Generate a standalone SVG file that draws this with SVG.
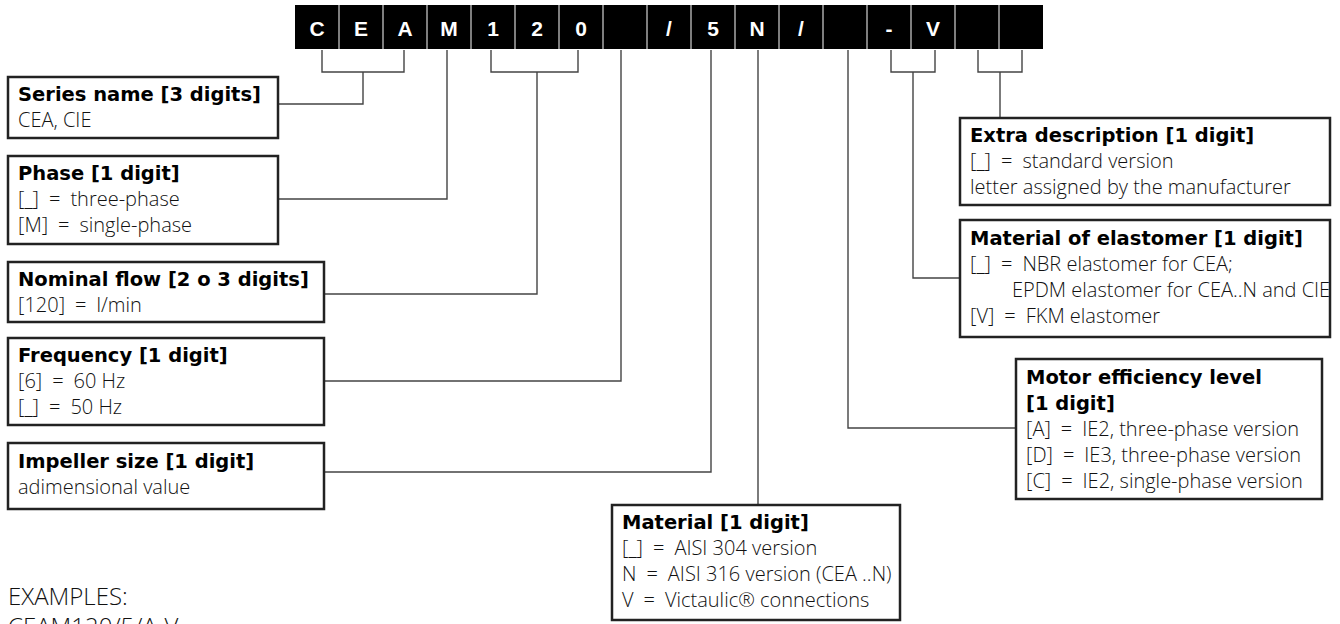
<svg xmlns="http://www.w3.org/2000/svg" width="1340" height="624" viewBox="0 0 1340 624">
<style>
.bar { fill: #000; }
.sep { stroke: #a8a8a8; stroke-width: 1.5; }
.code { font-family: "Liberation Sans", Arial, sans-serif; font-weight: bold; font-size: 21px; fill: #fff; text-anchor: middle; }
.box { fill: #fff; stroke: #222; stroke-width: 2.5; }
.t { font-family: "DejaVu Sans", sans-serif; font-weight: bold; font-size: 19.5px; fill: #000; }
.b { font-family: "Open Sans", "Liberation Sans", sans-serif; font-weight: 300; font-size: 20px; fill: #111; }
.conn { fill: none; stroke: #444; stroke-width: 1.4; }
.ex { font-family: "Open Sans", "Liberation Sans", sans-serif; font-weight: 300; font-size: 24px; fill: #111; }
</style>
<rect width="1340" height="624" fill="#fff"/>
<g id="code-bar">
<rect class="bar" x="295" y="5" width="748" height="44"/>
<path class="sep" d="M339,5V49M383,5V49M427,5V49M471,5V49M515,5V49M559,5V49M603,5V49M647,5V49M691,5V49M735,5V49M779,5V49M823,5V49M867,5V49M911,5V49M955,5V49M999,5V49"/>
<text class="code" x="317" y="36">C</text>
<text class="code" x="361" y="36">E</text>
<text class="code" x="405" y="36">A</text>
<text class="code" x="449" y="36">M</text>
<text class="code" x="493" y="36">1</text>
<text class="code" x="537" y="36">2</text>
<text class="code" x="581" y="36">0</text>
<text class="code" x="669" y="36">/</text>
<text class="code" x="713" y="36">5</text>
<text class="code" x="757" y="36">N</text>
<text class="code" x="801" y="36">/</text>
<text class="code" x="889" y="36">-</text>
<text class="code" x="933" y="36">V</text>
</g>
<g id="connectors">
<path class="conn" d="M322,50V72H404V50M363,72V104H278"/>
<path class="conn" d="M447,50V199H278"/>
<path class="conn" d="M491,50V72H578V50M537,72V294H324"/>
<path class="conn" d="M621,50V381H324"/>
<path class="conn" d="M711,50V472H324"/>
<path class="conn" d="M758,50V505"/>
<path class="conn" d="M848,50V428H1016"/>
<path class="conn" d="M891,50V72H935V50M913,72V278H960"/>
<path class="conn" d="M978,50V72H1022V50M1000,72V118"/>
</g>
<g id="series">
<rect class="box" x="8" y="77" width="270" height="61"/>
<text class="t" x="18" y="101">Series name [3 digits]</text>
<text class="b" x="18" y="127">CEA, CIE</text>
</g>
<g id="phase">
<rect class="box" x="8" y="156" width="270" height="88"/>
<text class="t" x="18" y="180">Phase [1 digit]</text>
<text class="b" x="18" y="206">[_]&#8194;=&#8194;three-phase</text>
<text class="b" x="18" y="232">[M]&#8194;=&#8194;single-phase</text>
</g>
<g id="nominal-flow">
<rect class="box" x="8" y="262" width="316" height="60"/>
<text class="t" x="18" y="286">Nominal flow [2 o 3 digits]</text>
<text class="b" x="18" y="312">[120]&#8194;=&#8194;l/min</text>
</g>
<g id="frequency">
<rect class="box" x="8" y="338" width="316" height="87"/>
<text class="t" x="18" y="362">Frequency [1 digit]</text>
<text class="b" x="18" y="388">[6]&#8194;=&#8194;60 Hz</text>
<text class="b" x="18" y="414">[_]&#8194;=&#8194;50 Hz</text>
</g>
<g id="impeller">
<rect class="box" x="8" y="443" width="316" height="66"/>
<text class="t" x="18" y="468">Impeller size [1 digit]</text>
<text class="b" x="18" y="494">adimensional value</text>
</g>
<g id="extra">
<rect class="box" x="960" y="118" width="370" height="87"/>
<text class="t" x="970" y="142">Extra description [1 digit]</text>
<text class="b" x="970" y="168">[_]&#8194;=&#8194;standard version</text>
<text class="b" x="970" y="194">letter assigned by the manufacturer</text>
</g>
<g id="elastomer">
<rect class="box" x="960" y="220" width="370" height="117"/>
<text class="t" x="970" y="245">Material of elastomer [1 digit]</text>
<text class="b" x="970" y="271">[_]&#8194;=&#8194;NBR elastomer for CEA;</text>
<text class="b" x="1012" y="297">EPDM elastomer for CEA..N and CIE</text>
<text class="b" x="970" y="323">[V]&#8194;=&#8194;FKM elastomer</text>
</g>
<g id="motor">
<rect class="box" x="1016" y="359" width="306" height="140"/>
<text class="t" x="1026" y="384">Motor efficiency level</text>
<text class="t" x="1026" y="410">[1 digit]</text>
<text class="b" x="1026" y="436">[A]&#8194;=&#8194;IE2, three-phase version</text>
<text class="b" x="1026" y="462">[D]&#8194;=&#8194;IE3, three-phase version</text>
<text class="b" x="1026" y="488">[C]&#8194;=&#8194;IE2, single-phase version</text>
</g>
<g id="material">
<rect class="box" x="612" y="505" width="288" height="115"/>
<text class="t" x="622" y="529">Material [1 digit]</text>
<text class="b" x="622" y="555">[_]&#8194;=&#8194;AISI 304 version</text>
<text class="b" x="622" y="581">N&#8194;=&#8194;AISI 316 version (CEA ..N)</text>
<text class="b" x="622" y="607">V&#8194;=&#8194;Victaulic® connections</text>
</g>
<g id="examples">
<text class="ex" x="8" y="605">EXAMPLES:</text>
<text class="ex" x="8" y="635">CEAM120/5/A-V</text>
</g>
</svg>
